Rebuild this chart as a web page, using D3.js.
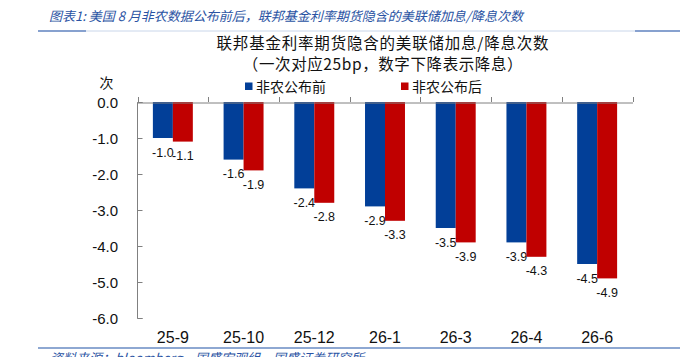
<!DOCTYPE html>
<html><head><meta charset="utf-8">
<script src="https://cdn.jsdelivr.net/npm/d3@7/dist/d3.min.js"></script>
<style>body{margin:0;background:#fff}svg{display:block}</style>
</head><body><svg id="c" width="680" height="357"></svg>
<script>
const categories = ["25-9","25-10","25-12","26-1","26-3","26-4","26-6"];
const seriesNames = ["非农公布前","非农公布后"];
const before = [-1.0,-1.6,-2.4,-2.9,-3.5,-3.9,-4.5];
const after = [-1.1,-1.9,-2.8,-3.3,-3.9,-4.3,-4.9];
const yTicks = [0,-1,-2,-3,-4,-5,-6];
const colors = ["#023f98","#c00000"];

const svg = d3.select("#c");
const cjk = "'Noto Sans CJK SC','Noto Sans',sans-serif";
const lat = "'Liberation Sans',Arial,sans-serif";

// header
svg.append("text").attr("x",49).attr("y",21).attr("font-family",cjk).attr("font-size",13)
  .attr("font-style","italic").attr("fill","#2a53a3")
  .text("图表1:  美国 8 月非农数据公布前后，联邦基金利率期货隐含的美联储加息/降息次数");
svg.append("line").attr("x1",38).attr("x2",86).attr("y1",31).attr("y2",31).attr("stroke","#5f82bf").attr("stroke-width",1.5);
svg.append("line").attr("x1",86).attr("x2",635).attr("y1",31).attr("y2",31).attr("stroke","#c9d6ea").attr("stroke-width",1);
svg.append("line").attr("x1",635).attr("x2",680).attr("y1",31).attr("y2",31).attr("stroke","#5f82bf").attr("stroke-width",1.5);

// titles
svg.append("text").attr("x",383).attr("y",49).attr("text-anchor","middle").attr("font-family",cjk)
  .attr("font-size",15.5).attr("letter-spacing",0.8).attr("fill","#111").text("联邦基金利率期货隐含的美联储加息/降息次数");
svg.append("text").attr("x",383).attr("y",69.5).attr("text-anchor","middle").attr("font-family",cjk)
  .attr("font-size",15.5).attr("letter-spacing",0.6).attr("fill","#111").text("（一次对应25bp，数字下降表示降息）");

const x0 = d3.scaleBand().domain(categories).range([137.5,632.5]).paddingInner(0).paddingOuter(0);
const x1 = d3.scaleBand().domain(seriesNames).range([0,x0.bandwidth()]).paddingInner(0).paddingOuter(0.77);
const y = d3.scaleLinear().domain([0,-6]).range([102,318]);

// unit
svg.append("text").attr("x",106.5).attr("y",88).attr("text-anchor","middle").attr("font-family",cjk)
  .attr("font-size",14).attr("fill","#111").text("次");

// legend
const lg = [{x:245},{x:401}];
seriesNames.forEach((n,i)=>{
  svg.append("rect").attr("x",lg[i].x).attr("y",82.5).attr("width",7.5).attr("height",7.5).attr("fill",colors[i]);
  svg.append("text").attr("x",lg[i].x+11).attr("y",91.5).attr("font-family",cjk).attr("font-size",14)
    .attr("fill","#111").text(n);
});

// bars
const data = categories.map((c,i)=>({c, vals:[before[i],after[i]]}));
const g = svg.append("g");
data.forEach(d=>{
  d.vals.forEach((v,j)=>{
    const bx = x0(d.c)+x1(seriesNames[j]);
    g.append("rect").attr("x",bx).attr("y",y(0)).attr("width",x1.bandwidth())
      .attr("height",y(v)-y(0)).attr("fill",colors[j]);
    g.append("text").attr("x",bx+x1.bandwidth()/2).attr("y",y(v)+18.5).attr("text-anchor","middle")
      .attr("font-family",lat).attr("font-size",12.5).attr("fill","#111").text(v.toFixed(1));
  });
});

// y axis
const ya = svg.append("g").attr("transform","translate(137.5,0)")
  .call(d3.axisRight(y).tickValues(yTicks).tickSize(5).tickFormat(""));
ya.select(".domain").attr("stroke","#808080").attr("d","M5,102.5H0V318.5H5");
ya.selectAll(".tick line").attr("stroke","#808080");
yTicks.forEach(t=>{
  svg.append("text").attr("x",118).attr("y",y(t)+5.5).attr("text-anchor","end")
    .attr("font-family",lat).attr("font-size",15).attr("fill","#111").text(t.toFixed(1));
});

// x axis at zero
const xa = svg.append("g").attr("transform",`translate(0,${Math.round(y(0))+0.5})`)
  .call(d3.axisTop(x0).tickSize(0).tickFormat(""));
xa.select(".domain").attr("stroke","#808080");
const bounds = categories.map(c=>x0(c)).concat([x0.range()[1]]);
bounds.forEach(b=>{
  svg.append("line").attr("x1",Math.round(b)+0.5).attr("x2",Math.round(b)+0.5)
    .attr("y1",y(0)-5).attr("y2",y(0)).attr("stroke","#808080");
});
categories.forEach(c=>{
  svg.append("text").attr("x",x0(c)+x0.bandwidth()/2).attr("y",343).attr("text-anchor","middle")
    .attr("font-family",lat).attr("font-size",16).attr("fill","#111").text(c);
});

// bottom rule and source
svg.append("line").attr("x1",38).attr("x2",680).attr("y1",348).attr("y2",348).attr("stroke","#8ea8d2").attr("stroke-width",2);
svg.append("text").attr("x",50).attr("y",363).attr("font-family",cjk).attr("font-size",13)
  .attr("font-style","italic").attr("fill","#2a53a3").text("资料来源：bloomberg，国盛宏观组，国盛证券研究所");
</script></body></html>
